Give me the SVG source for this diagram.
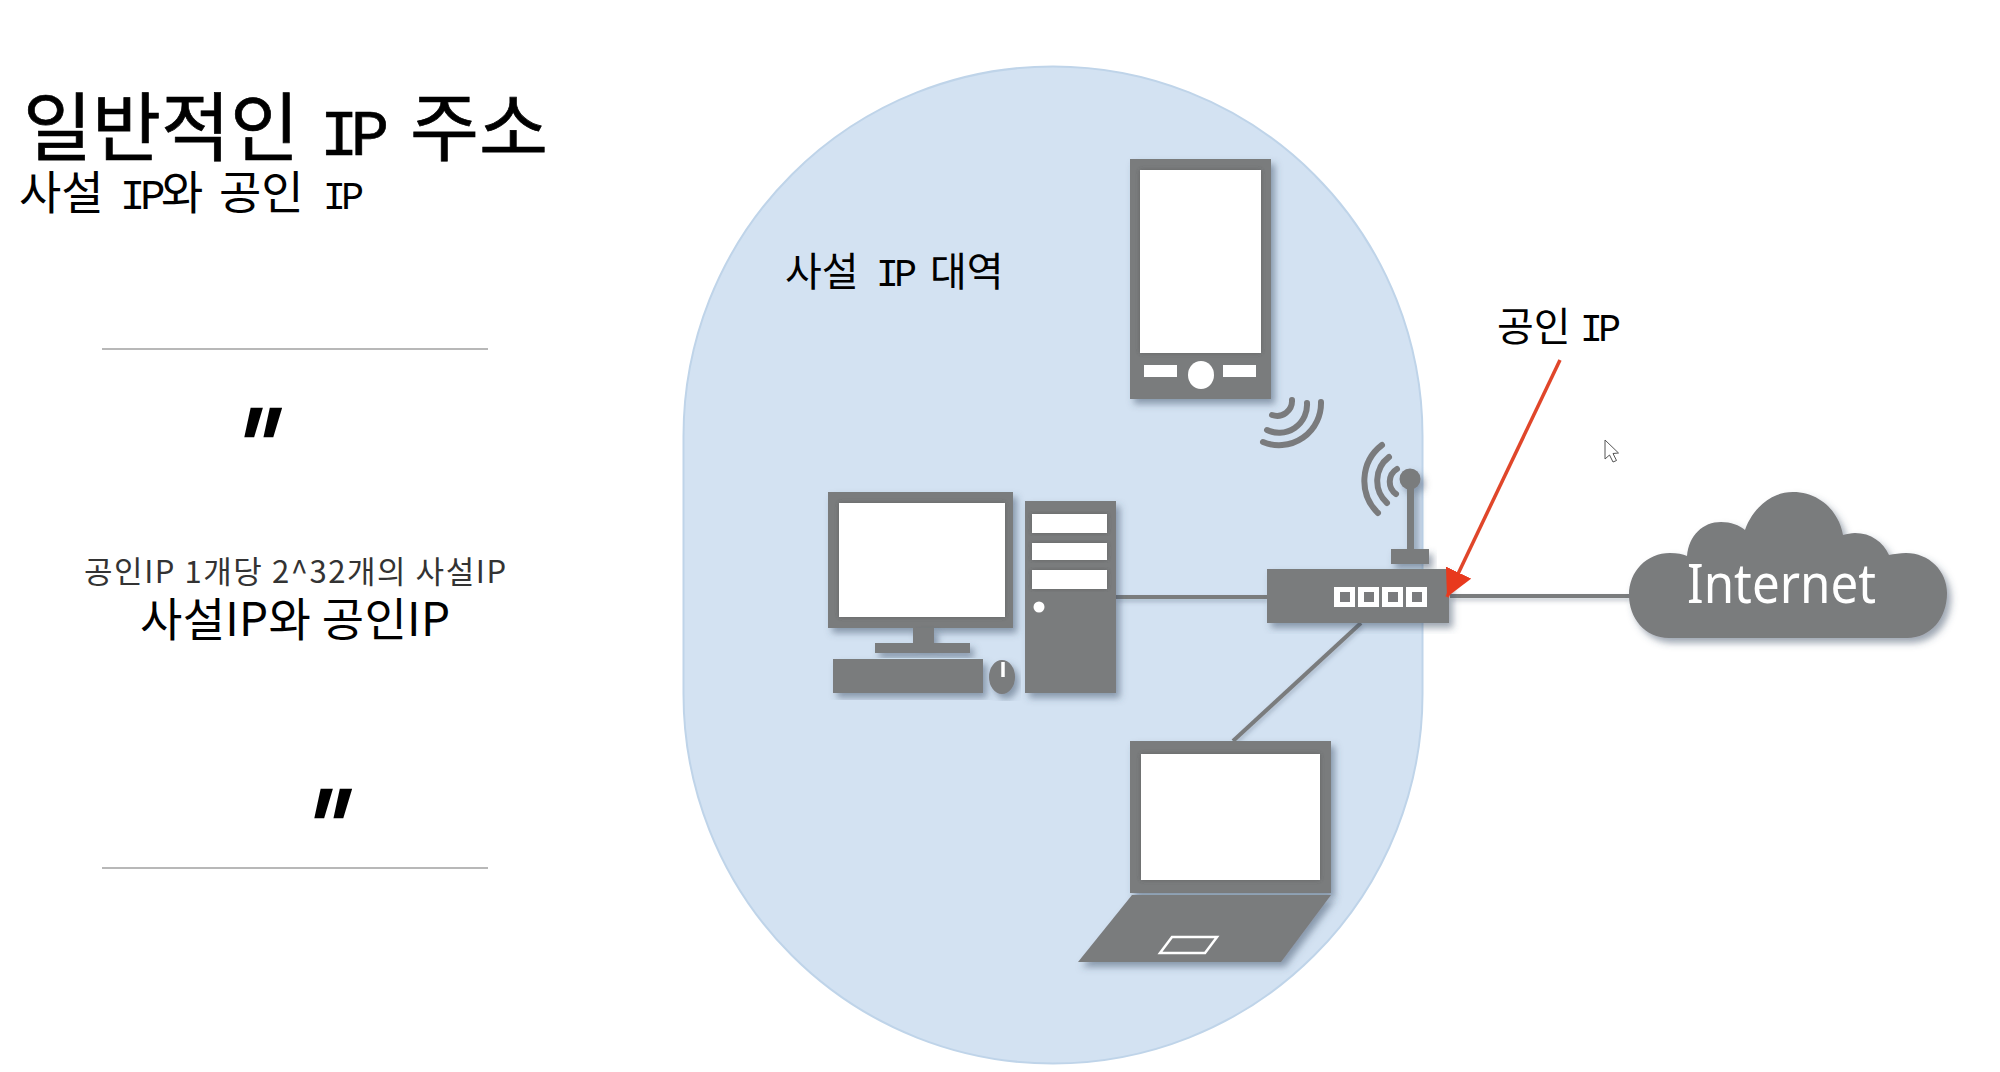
<svg xmlns="http://www.w3.org/2000/svg" width="2000" height="1072" viewBox="0 0 2000 1072">
<style>
text{font-family:"Noto Sans CJK KR","Noto Sans",sans-serif;fill:#000}
.m{font-family:"Liberation Mono","Noto Sans CJK KR",monospace;letter-spacing:-.12em}
.g{fill:#7a7b7d}
.w{fill:#fff}
.arc{fill:none;stroke:#7a7b7d;stroke-width:6;stroke-linecap:round}
.conn{fill:none;stroke:#7a7b7d;stroke-width:4}
.rule{stroke:#b8b8b8;stroke-width:2}
.q{font-family:"Liberation Sans",sans-serif;font-weight:700;font-style:italic;font-size:118px}
</style>
<defs>
<filter id="sh" x="-15%" y="-15%" width="135%" height="135%"><feDropShadow dx="4" dy="5" stdDeviation="3.500" flood-color="#3c4f66" flood-opacity="0.5"/></filter>
<filter id="halo" x="-10%" y="-15%" width="120%" height="130%"><feDropShadow dx="0" dy="0" stdDeviation="2.500" flood-color="#444" flood-opacity="0.45"/></filter>
<filter id="lsh" x="-5%" y="-20%" width="110%" height="140%"><feDropShadow dx="1" dy="3" stdDeviation="2" flood-color="#3c4f66" flood-opacity="0.3"/></filter>
<marker id="ah" markerUnits="userSpaceOnUse" markerWidth="30" markerHeight="30" refX="27" refY="14" orient="auto"><path d="M0,0L27,14L0,28Z" fill="#e8391d"/></marker>
</defs>
<rect width="2000" height="1072" fill="#fff"/>
<g id="title">
<text y="155" font-size="75" stroke="#000" stroke-width=".7"><tspan x="23">일반적인</tspan> <tspan class="m" x="320" font-size="64">IP</tspan> <tspan x="410">주소</tspan></text>
<text y="209" font-size="46"><tspan x="19">사설</tspan> <tspan class="m" x="120" font-size="42">IP</tspan><tspan x="161">와</tspan> <tspan x="219">공인</tspan> <tspan class="m" x="323" font-size="38">IP</tspan></text>
</g>
<g id="quote">
<line class="rule" x1="102" y1="349" x2="488" y2="349"/>
<text class="q" transform="translate(229,489) skewX(-6) scale(.78,1)">"</text>
<text x="295" y="583" font-size="31" text-anchor="middle" style="fill:#333" textLength="422">공인IP 1개당 2^32개의 사설IP</text>
<text x="295" y="636" font-size="46" text-anchor="middle" textLength="310">사설IP와 공인IP</text>
<text class="q" transform="translate(299,870) skewX(-6) scale(.78,1)">"</text>
<line class="rule" x1="102" y1="868" x2="488" y2="868"/>
</g>
<g id="private-zone">
<rect x="683.500" y="66.500" width="739" height="997" rx="369.500" ry="369.500" fill="#d3e2f2" stroke="#bfd4e9" stroke-width="2"/>
<text y="286" font-size="40"><tspan x="785">사설</tspan> <tspan class="m" x="876" font-size="38">IP</tspan> <tspan x="930">대역</tspan></text>
</g>
<g id="connectors" filter="url(#lsh)">
<line class="conn" x1="1116" y1="597" x2="1267" y2="597"/>
<line class="conn" x1="1361" y1="623" x2="1233" y2="741"/>
<line class="conn" x1="1450" y1="596" x2="1630" y2="596"/>
</g>
<g id="phone">
<rect class="g" x="1130" y="159" width="141" height="240" filter="url(#sh)"/>
<rect class="w" x="1140" y="170" width="121" height="183" filter="url(#halo)"/>
<rect class="w" x="1144" y="365" width="33" height="12"/>
<ellipse class="w" cx="1201" cy="375" rx="13" ry="14"/>
<rect class="w" x="1223" y="365" width="33" height="12"/>
<path class="arc" d="M1272,415A15,15 0 0 0 1292,400M1267,430A28,28 0 0 0 1307,403M1263,442A42,42 0 0 0 1321,402"/>
</g>
<g id="computer">
<rect class="g" x="828" y="492" width="185" height="136" filter="url(#sh)"/>
<rect class="w" x="839" y="503" width="166" height="114" filter="url(#halo)"/>
<path class="g" d="M913,628H934V643H970V653H875V643H913Z" filter="url(#sh)"/>
<rect class="g" x="833" y="659" width="150" height="34" filter="url(#sh)"/>
<ellipse class="g" cx="1002" cy="677" rx="13" ry="17" filter="url(#sh)"/>
<line x1="1003" y1="662" x2="1003" y2="677" stroke="#fff" stroke-width="3.500"/>
<rect class="g" x="1025" y="501" width="91" height="192" filter="url(#sh)"/>
<rect class="w" x="1032" y="514" width="75" height="19" filter="url(#halo)"/>
<rect class="w" x="1032" y="543" width="75" height="17" filter="url(#halo)"/>
<rect class="w" x="1032" y="570" width="75" height="19" filter="url(#halo)"/>
<circle class="w" cx="1039" cy="607" r="5.500"/>
</g>
<g id="laptop">
<rect class="g" x="1130" y="741" width="201" height="152" filter="url(#sh)"/>
<rect class="w" x="1141" y="754" width="179" height="126" filter="url(#halo)"/>
<path class="g" d="M1132,895H1331L1281,962H1078Z" filter="url(#sh)"/>
<path d="M1172,937H1217L1205,953H1160Z" fill="none" stroke="#fff" stroke-width="2.500"/>
</g>
<g id="router">
<path class="arc" d="M1397,469A15,15 0 0 0 1396,494M1389,457A30,30 0 0 0 1387,503M1382,445A45,45 0 0 0 1378,513"/>
<g filter="url(#sh)">
<circle class="g" cx="1410" cy="479" r="10.500"/>
<rect class="g" x="1407" y="485" width="7" height="66"/>
<rect class="g" x="1391" y="549" width="38" height="15"/>
</g>
<rect class="g" x="1267" y="569" width="182" height="54" filter="url(#sh)"/>
<g id="ports">
<rect class="w" x="1334" y="587" width="21" height="20"/><rect class="g" x="1340" y="592" width="10" height="10"/>
<rect class="w" x="1358" y="587" width="21" height="20"/><rect class="g" x="1364" y="592" width="10" height="10"/>
<rect class="w" x="1382" y="587" width="21" height="20"/><rect class="g" x="1388" y="592" width="10" height="10"/>
<rect class="w" x="1406" y="587" width="21" height="20"/><rect class="g" x="1412" y="592" width="10" height="10"/>
</g>
</g>
<g id="internet" transform="translate(-3,0)">
<path class="g" filter="url(#sh)" d="M1672,638C1648,638 1632,618 1632,595C1632,571 1650,553 1673,553C1680,553 1686,554 1690,556C1692,535 1706,522 1724,522C1734,522 1742,525 1748,530C1756,508 1774,492 1796,492C1822,492 1842,511 1846,535C1850,534 1854,533 1858,533C1874,533 1886,542 1892,555C1897,554 1903,553 1909,553C1932,553 1950,571 1950,593C1950,618 1934,638 1910,638Z"/>
<text x="1690" y="603" font-size="54" textLength="189" lengthAdjust="spacingAndGlyphs" style="fill:#fff;font-family:'Noto Sans',sans-serif">Internet</text>
</g>
<g id="public-ip">
<text y="341" font-size="40"><tspan x="1497">공인</tspan> <tspan class="m" x="1580" font-size="38">IP</tspan></text>
<line x1="1560" y1="360" x2="1447" y2="597" stroke="#e0462a" stroke-width="3.500" marker-end="url(#ah)"/>
</g>
<path id="cursor" d="M1605,440V459L1609.500,455L1613,462L1616.500,460.500L1613,453.500L1618.500,453Z" fill="#fff" stroke="#555" stroke-width="1"/>
</svg>
